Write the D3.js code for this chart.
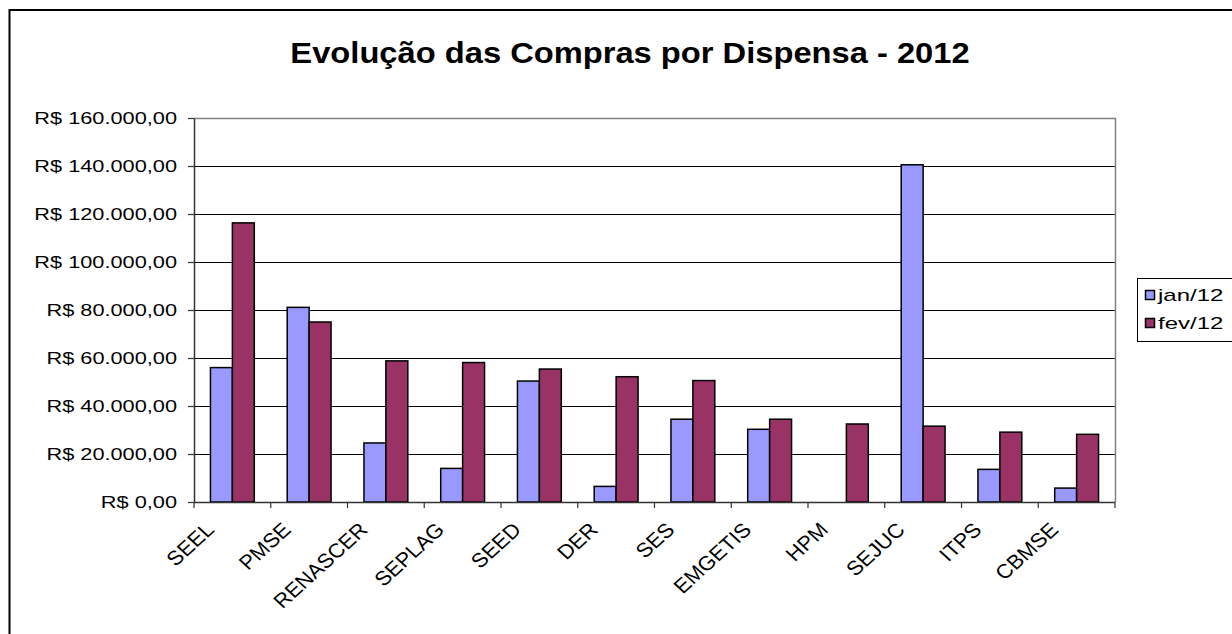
<!DOCTYPE html>
<html>
<head>
<meta charset="utf-8">
<script src="https://cdn.jsdelivr.net/npm/d3@7"></script>
<style>
  html, body { margin: 0; padding: 0; background: #fff; }
  svg { display: block; font-family: "Liberation Sans", Arial, sans-serif; }
</style>
</head>
<body>
<svg id="chart" width="1232" height="634"></svg>
<script>
const categories = ["SEEL","PMSE","RENASCER","SEPLAG","SEED","DER","SES","EMGETIS","HPM","SEJUC","ITPS","CBMSE"];
const seriesNames = ["jan/12","fev/12"];
const jan12 = [56000, 81100, 24600, 14000, 50400, 6500, 34500, 30300, 0, 140500, 13600, 5800];
const fev12 = [116300, 75000, 58800, 58100, 55400, 52200, 50600, 34500, 32500, 31600, 29100, 28200];
const yTicks = [0, 20000, 40000, 60000, 80000, 100000, 120000, 140000, 160000];
const titleText = "Evolução das Compras por Dispensa - 2012";
const colors = ["#9999FF", "#993366"];

const seriesValues = [jan12, fev12];
const rows = categories.map((c, i) => ({cat: c, vals: seriesNames.map((s, j) => ({s, j, v: seriesValues[j][i]}))}));

const svg = d3.select("#chart");
const L = 194, R = 1115, T = 118, B = 502;

// outer chart border
svg.append("rect").attr("x", 9.5).attr("y", 10).attr("width", 1240).attr("height", 640)
  .attr("fill", "#fff").attr("stroke", "#000").attr("stroke-width", 2);

const loc = d3.formatLocale({decimal: ",", thousands: ".", grouping: [3], currency: ["R$ ", ""]});
const fmt = loc.format("$,.2f");

const x0 = d3.scaleBand().domain(categories).range([L, R]).paddingInner(0).paddingOuter(0);
const x1 = d3.scaleBand().domain(seriesNames).range([0, x0.bandwidth()]).paddingInner(0).paddingOuter(0.75);
const y = d3.scaleLinear().domain([0, 160000]).range([B, T]);

// gridlines
svg.append("g").selectAll("line").data(yTicks.filter(d => d > 0 && d < 160000)).join("line")
  .attr("x1", L).attr("x2", R).attr("y1", d => Math.round(y(d)) + 0.5).attr("y2", d => Math.round(y(d)) + 0.5)
  .attr("stroke", "#000").attr("stroke-width", 1);

// plot area border (top/right gray)
svg.append("path").attr("d", `M${L},${T + 0.5}H${R + 0.5}V${B}`).attr("fill", "none")
  .attr("stroke", "#808080").attr("stroke-width", 1.5);

// bars
const groups = svg.append("g").selectAll("g").data(rows).join("g")
  .attr("transform", d => `translate(${x0(d.cat)},0)`);
groups.selectAll("rect").data(d => d.vals.filter(v => v.v > 0)).join("rect")
  .attr("x", d => x1(d.s)).attr("width", x1.bandwidth())
  .attr("y", d => y(d.v)).attr("height", d => B - y(d.v))
  .attr("fill", d => colors[d.j]).attr("stroke", "#000").attr("stroke-width", 1.5);

// y axis
const yAxis = d3.axisLeft(y).tickValues(yTicks).tickFormat(fmt).tickSizeInner(6).tickSizeOuter(0);
const gy = svg.append("g").attr("transform", `translate(${L},0)`).call(yAxis);
gy.select(".domain").attr("stroke", "#333").attr("stroke-width", 1.5);
gy.selectAll(".tick line").attr("stroke", "#333").attr("stroke-width", 1.2);
gy.selectAll(".tick text").attr("font-size", 16).attr("fill", "#000")
  .attr("font-family", "Liberation Sans, Arial, sans-serif")
  .attr("x", 0).attr("dy", "0.35em")
  .attr("transform", "translate(-17,0) scale(1.36,1)");

// x axis baseline + ticks at category boundaries
svg.append("line").attr("x1", L).attr("x2", R).attr("y1", B + 0.5).attr("y2", B + 0.5)
  .attr("stroke", "#333").attr("stroke-width", 1.5);
const bounds = categories.map(c => x0(c)).concat([R]);
svg.append("g").selectAll("line").data(bounds).join("line")
  .attr("x1", d => d).attr("x2", d => d).attr("y1", B).attr("y2", B + 6)
  .attr("stroke", "#333").attr("stroke-width", 1.2);

// x labels rotated (with slight horizontal stretch as in the reference)
svg.append("g").selectAll("text").data(categories).join("text")
  .attr("transform", c => `translate(${x0(c) + x0.bandwidth() / 2 - 17},${B + 29}) scale(1.1,1) rotate(-45)`)
  .attr("text-anchor", "end").attr("font-size", 20).attr("fill", "#000")
  .text(c => c);

// title
svg.append("text").attr("x", 0).attr("y", 0)
  .attr("transform", "translate(630,63) scale(1.09,1)")
  .attr("text-anchor", "middle").attr("font-weight", "bold").attr("font-size", 30)
  .text(titleText);

// legend
const lg = svg.append("g");
lg.append("rect").attr("x", 1137.5).attr("y", 278.5).attr("width", 120).attr("height", 63)
  .attr("fill", "#fff").attr("stroke", "#000").attr("stroke-width", 1);
const li = lg.selectAll("g").data(seriesNames).join("g")
  .attr("transform", (d, i) => `translate(1145,${295 + i * 28})`);
li.append("rect").attr("x", 0.5).attr("y", -4.5).attr("width", 9).attr("height", 9)
  .attr("fill", (d, i) => colors[i]).attr("stroke", "#000").attr("stroke-width", 1.5);
li.append("text").attr("x", 0).attr("y", 0).attr("dy", "0.35em")
  .attr("transform", "translate(13,0) scale(1.5,1)")
  .attr("font-size", 16).text(d => d);
</script>
</body>
</html>
